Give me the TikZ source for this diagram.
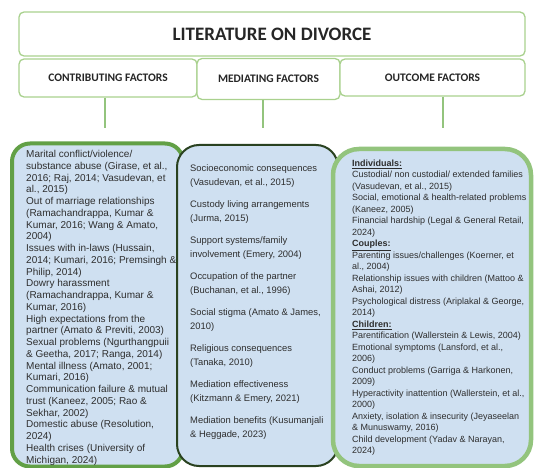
\documentclass[tikz,border=0pt]{standalone}
\usepackage{fontspec}
\setmainfont{Liberation Sans}
\newfontfamily\calib{Carlito}[BoldFont={Carlito Bold}]
\definecolor{hdrgreen}{HTML}{A9D18E}
\definecolor{lgreen}{HTML}{93C47D}
\definecolor{mgreen}{HTML}{62A046}
\definecolor{dgreen}{HTML}{2A4220}
\definecolor{panelblue}{HTML}{CFE0F1}
\definecolor{txtgray}{HTML}{2E2E2E}
\tikzset{
  hdr/.style={draw=hdrgreen, line width=1.3pt, rounded corners=5pt, fill=white, inner sep=0pt},
  hdrtxt/.style={font=\calib\bfseries\fontsize{11.5}{13}\selectfont, text=black!85},
  conn/.style={draw=lgreen, line width=2.5pt},
  panel/.style={fill=panelblue, inner sep=0pt},
  bodytxt/.style={anchor=north west, align=left, inner sep=0pt, text=txtgray},
}
\newcommand{\subhd}[1]{\underline{\textbf{#1}}}
\begin{document}
\begin{tikzpicture}[x=1pt,y=-1pt]
\useasboundingbox[fill=white] (0,0) rectangle (536,468);
% title and headers
\node[hdr, minimum width=506pt, minimum height=44pt, font=\calib\bfseries\fontsize{19}{22}\selectfont, text=black!85] (title) at (272,34) {LITERATURE ON DIVORCE};
\node[hdr, hdrtxt, minimum width=178pt, minimum height=38pt] (contr) at (108,78) {CONTRIBUTING FACTORS};
\node[hdr, hdrtxt, minimum width=143pt, minimum height=41pt] (med) at (268.5,79) {MEDIATING FACTORS};
\node[hdr, hdrtxt, minimum width=185pt, minimum height=37pt] (out) at (432.5,77.5) {OUTCOME FACTORS};
% connectors
\coordinate (c1) at (105,128);
\coordinate (c2) at (263,128);
\coordinate (c3) at (443,128);
\draw[conn] (contr.south -| c1) -- (c1);
\draw[conn] (med.south -| c2) -- (c2);
\draw[conn] (out.south -| c3) -- (c3);
% panels
\node[panel, draw=mgreen, line width=4pt, rounded corners=18pt, minimum width=171pt, minimum height=323pt] (cbox) at (97.5,305) {};
\node[panel, draw=dgreen, line width=2pt, rounded corners=22pt, minimum width=161pt, minimum height=321pt] (mbox) at (257.5,305.5) {};
\node[panel, draw=lgreen, line width=4.5pt, rounded corners=26pt, minimum width=198pt, minimum height=317pt] (obox) at (432,307.5) {};
% texts
\node[bodytxt, font=\fontsize{10}{11.75}\selectfont] (ctext) at (26,150.3) {%
Marital conflict/violence/\\
substance abuse (Girase, et al.,\\
2016; Raj, 2014; Vasudevan, et\\
al., 2015)\\
Out of marriage relationships\\
(Ramachandrappa, Kumar \&\\
Kumar, 2016; Wang \& Amato,\\
2004)\\
Issues with in-laws (Hussain,\\
2014; Kumari, 2016; Premsingh \&\\
Philip, 2014)\\
Dowry harassment\\
(Ramachandrappa, Kumar \&\\
Kumar, 2016)\\
High expectations from the\\
partner (Amato \& Previti, 2003)\\
Sexual problems (Ngurthangpuii\\
\& Geetha, 2017; Ranga, 2014)\\
Mental illness (Amato, 2001;\\
Kumari, 2016)\\
Communication failure \& mutual\\
trust (Kaneez, 2005; Rao \&\\
Sekhar, 2002)\\
Domestic abuse (Resolution,\\
2024)\\
Health crises (University of\\
Michigan, 2024)};
\node[bodytxt, font=\fontsize{9.4}{13.5}\selectfont] (mtext) at (190,164.6) {%
Socioeconomic consequences\\
(Vasudevan, et al., 2015)\\[9pt]
Custody living arrangements\\
(Jurma, 2015)\\[9pt]
Support systems/family\\
involvement (Emery, 2004)\\[9pt]
Occupation of the partner\\
(Buchanan, et al., 1996)\\[9pt]
Social stigma (Amato \& James,\\
2010)\\[9pt]
Religious consequences\\
(Tanaka, 2010)\\[9pt]
Mediation effectiveness\\
(Kitzmann \& Emery, 2021)\\[9pt]
Mediation benefits (Kusumanjali\\
\& Heggade, 2023)};
\node[bodytxt, font=\fontsize{9}{11.5}\selectfont] (otext) at (352,159.7) {%
\subhd{Individuals:}\\
Custodial/ non custodial/ extended families\\
(Vasudevan, et al., 2015)\\
Social, emotional \& health-related problems\\
(Kaneez, 2005)\\
Financial hardship (Legal \& General Retail,\\
2024)\\
\subhd{Couples:}\\
Parenting issues/challenges (Koerner, et\\
al., 2004)\\
Relationship issues with children (Mattoo \&\\
Ashai, 2012)\\
Psychological distress (Ariplakal \& George,\\
2014)\\
\subhd{Children:}\\
Parentification (Wallerstein \& Lewis, 2004)\\
Emotional symptoms (Lansford, et al.,\\
2006)\\
Conduct problems (Garriga \& Harkonen,\\
2009)\\
Hyperactivity inattention (Wallerstein, et al.,\\
2000)\\
Anxiety, isolation \& insecurity (Jeyaseelan\\
\& Munuswamy, 2016)\\
Child development (Yadav \& Narayan,\\
2024)};
\end{tikzpicture}
\end{document}
